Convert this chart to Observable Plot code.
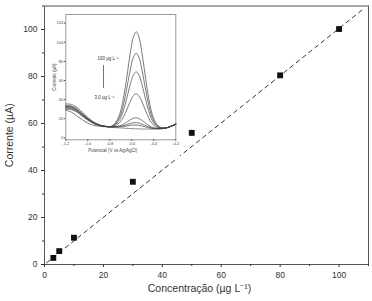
<!DOCTYPE html>
<html><head><meta charset="utf-8">
<script src="https://cdn.jsdelivr.net/npm/d3@7"></script>
<script src="https://cdn.jsdelivr.net/npm/@observablehq/plot@0.6"></script>
<style>
html,body{margin:0;padding:0;background:#fff;}
#wrap{position:relative;width:372px;height:301px;overflow:hidden;font-family:"Liberation Sans",Arial,sans-serif;}
#inset{position:absolute;left:50px;top:8px;}
</style></head><body>
<div id="wrap"><div id="main"></div><div id="inset"></div></div>
<script>
// Main calibration data
const conc = [3, 5, 10, 30, 50, 80, 100];
const current = [2.8, 5.7, 11.4, 35.2, 56.0, 80.5, 100.2];
const errBar = [0.6, 0.4, 0.6, 0.9, 1.4, 0.6, 0.5];
const fitX = [0.7, 108.6];
const fitY = [0.7, 109.1];
const xTicks = [0, 20, 40, 60, 80, 100];
const xMinor = [10, 30, 50, 70, 90, 110];
const yTicks = [0, 20, 40, 60, 80, 100];
const yMinor = [10, 30, 50, 70, 90, 110];

// Inset voltammograms
const potentials = [-1.2,-1.15,-1.1,-1.05,-1.0,-0.95,-0.9,-0.85,-0.8,-0.76,-0.71,-0.685,-0.66,-0.635,-0.61,-0.585,-0.56,-0.535,-0.51,-0.485,-0.46,-0.435,-0.41,-0.36,-0.3,-0.25,-0.2];
const c100 = [33,32.5,29.5,24.5,20,16,13.5,12.2,11.6,14.2,24.8,36.1,52.3,71.9,91.3,105.7,111.0,105.4,90.6,71.0,51.1,34.6,23.1,12.4,10.3,12.0,14.5];
const c80  = [32,31.5,28.5,24,19.5,15.8,13.4,12.2,11.6,13.6,21.7,30.5,43.1,58.2,73.3,84.4,88.5,84.1,72.6,57.3,41.9,29.0,20.0,11.8,10.3,12.0,14.5];
const c50  = [31,30.5,28,23.5,19.2,15.6,13.3,12.1,11.6,13.0,19.1,25.7,35.0,46.4,57.7,65.9,69.0,65.6,57.0,45.5,33.8,24.2,17.4,11.2,10.2,11.9,14.4];
const c30  = [34,33.5,30.5,25.5,20.5,16.3,13.6,12.3,11.6,12.3,16.0,19.9,25.6,32.4,39.2,44.2,46.0,43.9,38.5,31.5,24.4,18.4,14.3,10.5,10.2,11.9,14.4];
const c10  = [30,29.5,27,22.5,18.5,15.2,13.1,12.0,11.5,11.6,12.6,13.7,15.3,17.3,19.2,20.5,21.0,20.2,18.5,16.4,14.1,12.2,10.9,9.8,10.1,11.8,14.3];
const c5   = [29,27,23,19,15.5,13.2,12.2,11.7,11.5,11.5,11.9,12.5,13.3,14.2,15.2,15.8,16.0,15.5,14.5,13.3,12.1,11.0,10.2,9.7,10.1,11.8,14.3];
const c3   = [32.5,32,29,24,19.8,15.9,13.5,12.2,11.6,11.4,11.6,11.8,12.2,12.7,13.2,13.4,13.5,13.1,12.5,11.8,11.0,10.3,9.9,9.6,10.1,11.8,14.3];
const cBlank = [35.5,35,32,27,21.5,17,14,12.4,11.5,10.8,10.5,10.3,10.1,9.9,9.7,9.6,9.5,9.4,9.3,9.3,9.2,9.2,9.2,9.3,10.0,11.6,14.0];
const insetXTicks = [-1.2, -1.0, -0.8, -0.6, -0.4, -0.2];
const insetYTicks = [0, 20, 40, 60, 80, 100, 120];

const points = conc.map((c, i) => ({x: c, y: current[i], e: errBar[i]}));
const fit = fitX.map((x, i) => ({x, y: fitY[i]}));

const font = "Liberation Sans, Arial, sans-serif";

const main = Plot.plot({
  width: 372, height: 301,
  marginLeft: 44, marginRight: 4, marginTop: 5.5, marginBottom: 37,
  style: {fontFamily: font, fontSize: "8.5px", color: "#333", background: "white"},
  x: {domain: [0, 110]},
  y: {domain: [0, 110]},
  marks: [
    Plot.frame({stroke: "#555"}),
    Plot.axisX({ticks: xTicks, tickSize: 3, tickPadding: 4, label: null, fontSize: 8.5, tickFormat: d => d}),
    Plot.axisX({ticks: xMinor, tickSize: 2, label: null, tickFormat: () => ""}),
    Plot.axisY({ticks: yTicks, tickSize: 3, tickPadding: 4, label: null, fontSize: 8.5, tickFormat: d => d}),
    Plot.axisY({ticks: yMinor, tickSize: 2, label: null, tickFormat: () => ""}),
    Plot.line(fit, {x: "x", y: "y", stroke: "#333", strokeWidth: 1, strokeDasharray: "4,4"}),
    Plot.ruleX(points, {x: "x", y1: d => d.y - d.e, y2: d => d.y + d.e, stroke: "#999"}),
    Plot.dot(points, {x: "x", y: "y", symbol: "square", r: 3.3, fill: "#111"}),
    Plot.text(["Concentração (µg L⁻¹)"], {frameAnchor: "bottom", lineAnchor: "middle", dy: 24.5, dx: -7, fontSize: 10.5, fill: "#333"}),
    Plot.text(["Corrente (µA)"], {frameAnchor: "left", dx: -35, rotate: -90, textAnchor: "middle", fontSize: 10.5, fill: "#333"})
  ]
});
document.getElementById("main").appendChild(main);

const series = [
  ["100", c100], ["80", c80], ["50", c50], ["30", c30], ["10", c10], ["5", c5], ["3", c3]
];
const curveRows = series.flatMap(([s, vals]) => potentials.map((E, i) => ({E, I: vals[i], s})));
const blankRows = potentials.map((E, i) => ({E, I: cBlank[i]}));

const inset = Plot.plot({
  width: 130, height: 150,
  marginLeft: 15.3, marginRight: 4.7, marginTop: 6, marginBottom: 18.7,
  style: {fontFamily: font, fontSize: "4px", color: "#444", background: "white"},
  x: {domain: [-1.2, -0.2]},
  y: {domain: [-2, 129]},
  marks: [
    Plot.frame({stroke: "#999"}),
    Plot.axisX({ticks: insetXTicks, tickSize: 1.5, tickPadding: 1, label: null, fontSize: 4, tickFormat: d => d.toFixed(1)}),
    Plot.axisY({ticks: insetYTicks, tickSize: 1.5, tickPadding: 1, label: null, fontSize: 4, tickFormat: d => d}),
    Plot.line(curveRows, {x: "E", y: "I", z: "s", curve: "catmull-rom", stroke: "#444", strokeWidth: 0.7}),
    Plot.line(blankRows, {x: "E", y: "I", curve: "catmull-rom", stroke: "#444", strokeWidth: 0.7, strokeDasharray: "1.5,1"}),
    Plot.ruleX([-0.857], {y1: 51.6, y2: 75.7, stroke: "#333", strokeWidth: 0.7}),
    Plot.text(["100 µg L⁻¹"], {x: -0.912, y: 83, textAnchor: "start", fontSize: 4.5, fill: "#333"}),
    Plot.text(["3,0 µg L⁻¹"], {x: -0.94, y: 42, textAnchor: "start", fontSize: 4.5, fill: "#333"}),
    Plot.text(["Potencial (V vs Ag/AgCl)"], {frameAnchor: "bottom", lineAnchor: "middle", dy: 11, dx: -8, fontSize: 4.5, fill: "#444"}),
    Plot.text(["Corrente (µA)"], {frameAnchor: "left", dx: -11, dy: 0, rotate: -90, textAnchor: "middle", fontSize: 4.5, fill: "#444"})
  ]
});
document.getElementById("inset").appendChild(inset);
</script>
</body></html>
